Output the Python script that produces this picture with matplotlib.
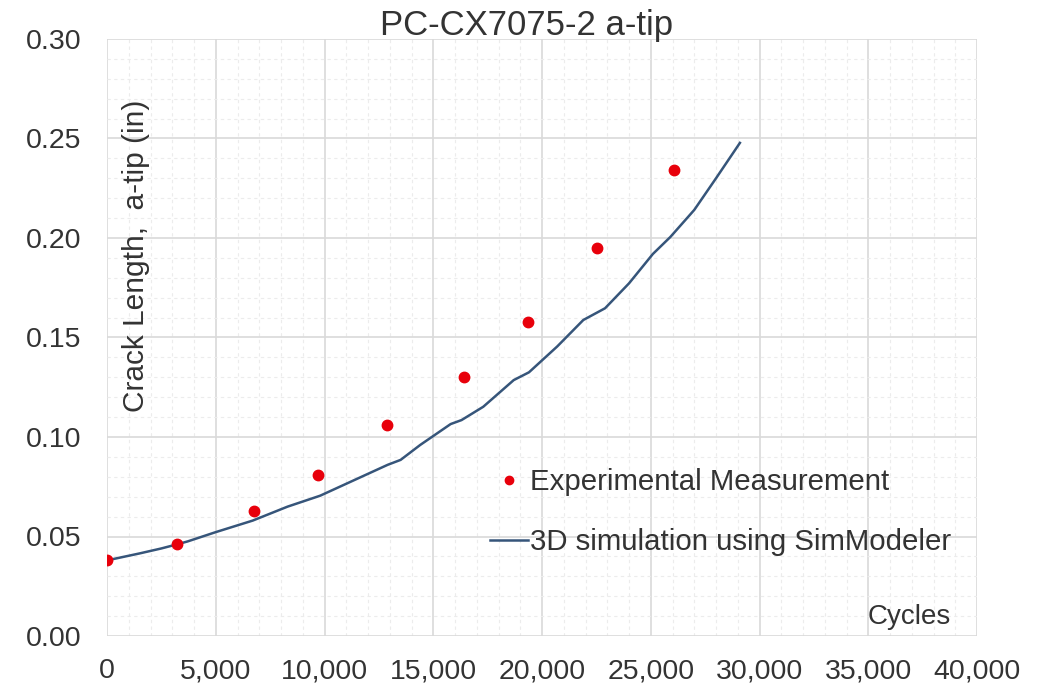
import matplotlib
matplotlib.use("Agg")
import matplotlib.pyplot as plt
from matplotlib.ticker import MultipleLocator, FuncFormatter

plt.rcParams['font.family'] = ['Liberation Sans', 'DejaVu Sans']

# Measured crack length at the a-tip
exp_cycles = [0, 3200, 6760, 9720, 12860, 16430, 19370, 22510, 26080]
exp_length = [0.038, 0.046, 0.063, 0.081, 0.106, 0.130, 0.158, 0.195, 0.234]

# SimModeler 3D crack growth prediction
sim_cycles = [0, 1500, 2500, 3200, 3700, 5000, 6700, 8300, 9800, 10700,
              11900, 12900, 13500, 14400, 15800, 16300, 17300, 18700,
              19400, 20700, 21900, 22900, 24000, 25100, 25900, 27000,
              28000, 29100]
sim_length = [0.038, 0.0415, 0.044, 0.046, 0.0475, 0.0522, 0.058, 0.065,
              0.0705, 0.075, 0.081, 0.086, 0.0885, 0.096, 0.1065, 0.1085,
              0.1152, 0.1286, 0.1325, 0.1455, 0.1588, 0.1647, 0.1772,
              0.192, 0.2005, 0.2141, 0.230, 0.2478]

title = "PC-CX7075-2 a-tip"
ylabel = "Crack Length,  a-tip (in)"
xlabel = "Cycles"
exp_label = "Experimental Measurement"
sim_label = "3D simulation using SimModeler"

text_color = "#333333"

fig = plt.figure(figsize=(10.4, 6.85), dpi=100)
W, H = 1040, 685
ax = fig.add_axes([107 / W, 1 - 636 / H, (977 - 107) / W, (636 - 39) / H])

ax.plot(sim_cycles, sim_length, color="#36557a", lw=1.8, label=sim_label, zorder=3)
ax.plot(exp_cycles, exp_length, linestyle="none", marker="o", ms=7.5,
        color="#e8000b", label=exp_label, zorder=4)

ax.set_xlim(0, 40000)
ax.set_ylim(0, 0.30)
ax.xaxis.set_major_locator(MultipleLocator(5000))
ax.xaxis.set_minor_locator(MultipleLocator(1000))
ax.yaxis.set_major_locator(MultipleLocator(0.05))
ax.yaxis.set_minor_locator(MultipleLocator(0.01))
ax.xaxis.set_major_formatter(FuncFormatter(lambda v, p: f"{int(round(v)):,}"))
ax.yaxis.set_major_formatter(FuncFormatter(lambda v, p: f"{v:.2f}"))

ax.grid(which="major", color="#d9d9d9", lw=1.2, zorder=0)
ax.grid(which="minor", color="#ececec", lw=0.8, linestyle=(0, (3, 3)), zorder=0)
ax.set_axisbelow(True)
for s in ax.spines.values():
    s.set_visible(False)

ax.tick_params(which="both", length=0, labelsize=20.5, labelcolor=text_color)
ax.tick_params(axis="y", pad=18.5)
ax.tick_params(axis="x", pad=16)

fig.text(527 / W, 1 - 25 / H, title, ha="center", va="center",
         fontsize=25, color=text_color)

fig.text(136 / W, 1 - 256 / H, ylabel, rotation=90,
         ha="center", va="center", fontsize=21.5, color=text_color)
fig.text(909 / W, 1 - 617 / H, xlabel,
         ha="center", va="center", fontsize=20, color=text_color)

handles, labels = ax.get_legend_handles_labels()
leg = ax.legend(handles[::-1], labels[::-1], loc="upper left",
                bbox_to_anchor=(490 / W, 1 - 468 / H),
                bbox_transform=fig.transFigure, frameon=False,
                fontsize=21.2, handlelength=1.3, handletextpad=0.05,
                labelspacing=1.1, borderpad=0, borderaxespad=0,
                markerscale=0.8)
for t in leg.get_texts():
    t.set_color(text_color)

fig.savefig("out.png", dpi=100)
